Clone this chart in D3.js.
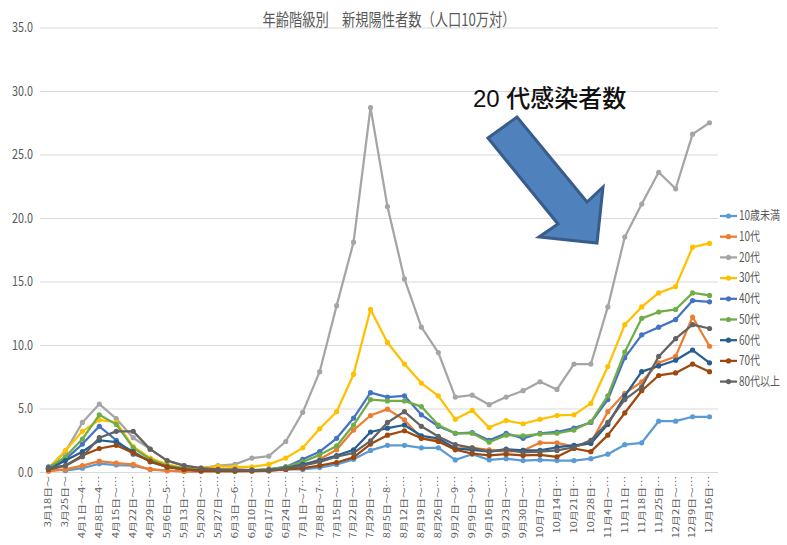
<!DOCTYPE html>
<html>
<head>
<meta charset="utf-8">
<script src="https://cdn.jsdelivr.net/npm/d3@7"></script>
<style>
  body { margin: 0; background: #fff; }
  svg { display: block; font-family: "Noto Sans CJK JP", "Noto Sans", sans-serif; }
</style>
</head>
<body>
<svg width="787" height="545"></svg>
<script>
// week labels (Excel cuts the long ones with …)
const weeks = [
  "3月18日～", "3月25日～", "4月1日～4…", "4月8日～4…", "4月15日～…", "4月22日～…",
  "4月29日～…", "5月6日～5…", "5月13日～…", "5月20日～…", "5月27日～…", "6月3日～6…",
  "6月10日～…", "6月17日～…", "6月24日～…", "7月1日～7…", "7月8日～7…", "7月15日～…",
  "7月22日～…", "7月29日～…", "8月5日～8…", "8月12日～…", "8月19日～…", "8月26日～…",
  "9月2日～9…", "9月9日～9…", "9月16日～…", "9月23日～…", "9月30日～…", "10月7日～…",
  "10月14日…", "10月21日…", "10月28日…", "11月4日～…", "11月11日…", "11月18日…",
  "11月25日…", "12月2日～…", "12月9日～…", "12月16日…"
];

const under10 = [0.3, 0.1, 0.3, 0.65, 0.55, 0.5, 0.2, 0.1, 0.05, 0.05, 0.05, 0.05, 0.1, 0.1, 0.2, 0.2, 0.35, 0.6, 1.0, 1.7,
  2.1, 2.1, 1.9, 1.9, 0.95, 1.4, 0.95, 1.05, 0.9, 0.95, 0.9, 0.9, 1.05, 1.4, 2.15, 2.3, 4.0, 4.0, 4.35, 4.35];
const teens = [0.05, 0.2, 0.5, 0.85, 0.7, 0.6, 0.2, 0.1, 0.05, 0.05, 0.05, 0.05, 0.05, 0.1, 0.2, 0.5, 1.0, 1.75, 3.3, 4.45,
  4.95, 4.1, 2.65, 2.5, 1.85, 1.9, 1.75, 1.6, 1.7, 2.3, 2.3, 2.0, 2.3, 4.75, 6.2, 7.1, 8.6, 9.1, 12.2, 9.9];
const twenties = [0.3, 1.6, 3.9, 5.35, 4.2, 2.7, 1.8, 0.9, 0.5, 0.3, 0.5, 0.6, 1.1, 1.25, 2.4, 4.7, 7.9, 13.1, 18.1, 28.7,
  20.9, 15.2, 11.4, 9.4, 5.9, 6.05, 5.3, 5.9, 6.4, 7.1, 6.5, 8.5, 8.5, 13.0, 18.5, 21.1, 23.6, 22.3, 26.6, 27.5];
const thirties = [0.3, 1.7, 3.2, 4.1, 3.9, 2.0, 1.1, 0.6, 0.3, 0.3, 0.45, 0.4, 0.4, 0.6, 1.1, 1.9, 3.4, 4.75, 7.7, 12.8,
  10.2, 8.5, 7.0, 6.0, 4.15, 4.85, 3.5, 4.05, 3.8, 4.15, 4.45, 4.5, 5.4, 8.3, 11.6, 13.0, 14.1, 14.6, 17.7, 18.0];
const forties = [0.4, 1.0, 2.2, 3.6, 2.5, 1.4, 0.9, 0.4, 0.2, 0.1, 0.1, 0.1, 0.15, 0.2, 0.4, 1.0, 1.6, 2.65, 4.25, 6.25,
  5.9, 6.0, 4.5, 3.6, 3.05, 3.1, 2.5, 3.05, 2.65, 3.05, 3.15, 3.45, 3.9, 5.7, 9.0, 10.8, 11.4, 12.0, 13.5, 13.4];
const fifties = [0.3, 1.2, 2.6, 4.5, 3.75, 1.9, 1.0, 0.5, 0.3, 0.15, 0.1, 0.1, 0.15, 0.2, 0.4, 0.8, 1.35, 2.05, 3.7, 5.7,
  5.6, 5.6, 5.15, 3.7, 3.05, 3.05, 2.35, 2.9, 2.85, 3.0, 3.05, 3.3, 3.95, 6.0, 9.45, 12.1, 12.6, 12.8, 14.1, 13.9];
const sixties = [0.2, 0.9, 1.6, 2.5, 2.35, 1.6, 0.8, 0.4, 0.2, 0.1, 0.1, 0.1, 0.1, 0.15, 0.3, 0.6, 0.9, 1.3, 1.75, 3.15,
  3.45, 3.7, 2.85, 2.65, 1.85, 1.75, 1.6, 1.8, 1.7, 1.7, 1.95, 2.1, 2.25, 3.75, 6.0, 7.9, 8.35, 8.8, 9.6, 8.6];
const seventies = [0.2, 0.5, 1.3, 1.85, 2.1, 1.5, 0.85, 0.4, 0.2, 0.1, 0.1, 0.1, 0.1, 0.1, 0.2, 0.3, 0.5, 0.75, 1.15, 2.2,
  2.9, 3.25, 2.65, 2.4, 1.75, 1.45, 1.3, 1.4, 1.3, 1.35, 1.2, 1.85, 1.6, 2.9, 4.65, 6.4, 7.6, 7.8, 8.5, 7.9];
const over80 = [0.3, 0.5, 1.2, 2.7, 3.2, 3.2, 1.8, 0.9, 0.5, 0.3, 0.2, 0.2, 0.15, 0.15, 0.3, 0.5, 0.8, 1.2, 1.5, 2.45,
  3.9, 4.75, 3.6, 2.8, 2.15, 1.9, 1.6, 1.75, 1.55, 1.6, 1.7, 1.95, 2.5, 3.9, 5.7, 6.7, 9.1, 10.5, 11.6, 11.3];

const seriesNames = ["10歳未満", "10代", "20代", "30代", "40代", "50代", "60代", "70代", "80代以上"];
const seriesValues = [under10, teens, twenties, thirties, forties, fifties, sixties, seventies, over80];
const seriesColors = ["#5b9bd5", "#ed7d31", "#a5a5a5", "#ffc000", "#4472c4", "#70ad47", "#255e91", "#9e480e", "#636363"];

const yTicks = [0, 5, 10, 15, 20, 25, 30, 35];

const plot = { left: 40, right: 718, top: 27.5, bottom: 472 };
const textColor = "#595959";
const svg = d3.select("svg");

const x = d3.scaleBand().domain(d3.range(weeks.length)).range([plot.left, plot.right]);
const y = d3.scaleLinear().domain([0, 35]).range([plot.bottom, plot.top]);
const cx = (i) => x(i) + x.bandwidth() / 2;

// grid
svg
  .append("g")
  .attr("transform", `translate(${plot.left},0)`)
  .call(d3.axisLeft(y).tickValues(yTicks).tickSize(-(plot.right - plot.left)).tickFormat(""))
  .call((g) => g.select(".domain").remove())
  .call((g) => g.selectAll("line").attr("stroke", "#d9d9d9").attr("stroke-width", 1));

// y labels (chart text is a bit squeezed in the original)
svg
  .append("g")
  .attr("transform", `translate(${plot.left},0)`)
  .call(d3.axisLeft(y).tickValues(yTicks).tickSize(0).tickFormat(d3.format(".1f")))
  .call((g) => g.select(".domain").remove())
  .call((g) =>
    g
      .selectAll("text")
      .attr("x", null)
      .attr("transform", "translate(-7,0) scale(0.8,1)")
      .attr("fill", textColor)
      .attr("font-size", 13.5)
      .attr("font-family", "Noto Sans CJK JP")
  );

// x labels
svg
  .append("g")
  .attr("transform", `translate(0,${plot.bottom})`)
  .call(d3.axisBottom(x).tickSize(0).tickFormat((i) => weeks[i]))
  .call((g) => g.select(".domain").remove())
  .call((g) =>
    g
      .selectAll("text")
      .attr("x", 0)
      .attr("y", 0)
      .attr("dy", "0.35em")
      .attr("text-anchor", "end")
      .attr("transform", "translate(0,4) rotate(-90) scale(1,0.75)")
      .attr("fill", textColor)
      .attr("font-size", 11)
      .attr("font-family", "Noto Sans CJK JP")
  );

// series
const line = d3
  .line()
  .x((d, i) => cx(i))
  .y((d) => y(d));

seriesValues.forEach((values, k) => {
  const g = svg.append("g");
  g.append("path")
    .attr("d", line(values))
    .attr("fill", "none")
    .attr("stroke", seriesColors[k])
    .attr("stroke-width", 2.25)
    .attr("stroke-linejoin", "round");
  g.selectAll("circle")
    .data(values)
    .join("circle")
    .attr("cx", (d, i) => cx(i))
    .attr("cy", (d) => y(d))
    .attr("r", 2.6)
    .attr("fill", seriesColors[k]);
});

// legend
const legend = svg
  .append("g")
  .selectAll("g")
  .data(seriesNames)
  .join("g")
  .attr("transform", (d, i) => `translate(720,${216 + i * 20.7})`);
legend
  .append("line")
  .attr("x1", 0)
  .attr("x2", 17)
  .attr("stroke", (d, i) => seriesColors[i])
  .attr("stroke-width", 2.25);
legend
  .append("circle")
  .attr("cx", 8.5)
  .attr("r", 2.6)
  .attr("fill", (d, i) => seriesColors[i]);
legend
  .append("text")
  .attr("transform", "translate(19,0) scale(0.8,1)")
  .attr("dy", "0.35em")
  .attr("fill", textColor)
  .attr("font-size", 12.5)
  .text((d) => d);

// title
svg
  .append("text")
  .attr("transform", "translate(389,26) scale(0.78,1)")
  .attr("text-anchor", "middle")
  .attr("fill", textColor)
  .attr("font-size", 17)
  .text("年齢階級別　新規陽性者数（人口10万対）");

// annotation
svg
  .append("text")
  .attr("x", 473)
  .attr("y", 107)
  .attr("font-family", "'Liberation Sans', 'Noto Sans CJK JP', sans-serif")
  .attr("font-size", 24)
  .attr("font-weight", 500)
  .attr("fill", "#111")
  .text("20 代感染者数");

svg
  .append("polygon")
  .attr("points", "488,138 517,117 587,202 603,187 597,243 539,237 558,224")
  .attr("fill", "#4f81bd")
  .attr("stroke", "#385d8a")
  .attr("stroke-width", 3)
  .attr("stroke-linejoin", "miter");
</script>
</body>
</html>
